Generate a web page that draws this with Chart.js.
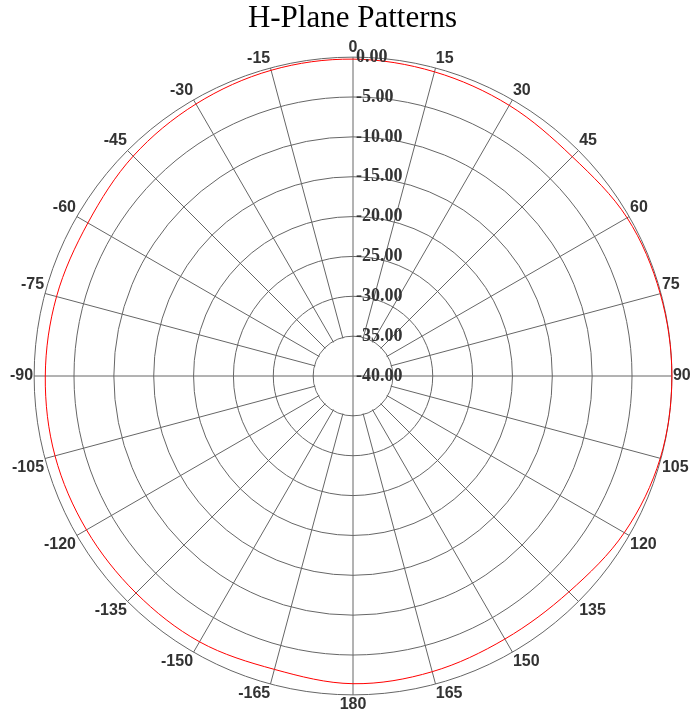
<!DOCTYPE html>
<html>
<head>
<meta charset="utf-8">
<script src="https://cdn.jsdelivr.net/npm/chart.js@4"></script>
<style>
  body { margin: 0; background: #fff; }
  #wrap { width: 694px; height: 719px; }
</style>
</head>
<body>
<div id="wrap"><canvas id="pattern"></canvas></div>
<script>
// angles in degrees, clockwise from top
const angles = [0, 15, 30, 45, 60, 75, 90, 105, 120, 135, 150, 165, 180,
                -165, -150, -135, -120, -105, -90, -75, -60, -45, -30, -15];
// measured gain in dB at each angle
const gainDb = [-0.25, -0.5, -0.8, -1.1, -0.3, -0.1, 0, -0.1, -0.7, -1.7, -1.9, -1.6, -1.4,
                -1.9, -1.5, -1.5, -1.4, -1.3, -1.4, -1.5, -1.6, -1.0, -0.6, -0.3];
const dbMin = -40;
const dbMax = 0;
const dbStep = 5;

// white hole in the middle, only the cross runs through it
const innerHole = {
    id: 'innerHole',
    beforeDatasetsDraw(chart) {
        const s = chart.scales.r;
        const ctx = chart.ctx;
        const rHole = s.getDistanceFromCenterForValue(dbMin + dbStep);
        ctx.save();
        ctx.fillStyle = '#fff';
        ctx.beginPath();
        ctx.arc(s.xCenter, s.yCenter, rHole - 0.8, 0, Math.PI * 2);
        ctx.fill();
        ctx.strokeStyle = '#666';
        ctx.lineWidth = 1;
        ctx.beginPath();
        ctx.moveTo(s.xCenter, s.yCenter - rHole);
        ctx.lineTo(s.xCenter, s.yCenter + rHole);
        ctx.moveTo(s.xCenter - rHole, s.yCenter);
        ctx.lineTo(s.xCenter + rHole, s.yCenter);
        ctx.stroke();
        ctx.restore();
    },
    afterDatasetsDraw(chart) {
        // dB labels up the 0 degree spoke, left aligned
        const s = chart.scales.r;
        const ctx = chart.ctx;
        ctx.save();
        ctx.font = 'bold 18px "Liberation Serif"';
        ctx.fillStyle = '#333';
        ctx.textAlign = 'left';
        ctx.textBaseline = 'middle';
        s.ticks.forEach(t => {
            const y = s.yCenter - s.getDistanceFromCenterForValue(t.value);
            ctx.fillText(t.value.toFixed(2), s.xCenter + 3, y);
        });
        ctx.restore();
    }
};

const ctx = document.getElementById('pattern').getContext('2d');
new Chart(ctx, {
    type: 'radar',
    data: {
        labels: angles.map(String),
        datasets: [{
            data: gainDb,
            borderColor: '#ff0000',
            borderWidth: 1,
            backgroundColor: 'transparent',
            fill: false,
            pointRadius: 0,
            tension: 0.34
        }]
    },
    options: {
        responsive: true,
        maintainAspectRatio: false,
        animation: false,
        layout: { padding: { left: 8, right: -3, top: 0, bottom: 3 } },
        plugins: {
            legend: { display: false },
            tooltip: { enabled: false },
            title: {
                display: true,
                text: 'H-Plane Patterns',
                color: '#000',
                font: { family: '"Liberation Serif"', size: 31, weight: 'normal' },
                padding: { top: 0, bottom: 0 }
            }
        },
        scales: {
            r: {
                min: dbMin,
                max: dbMax,
                startAngle: 0,
                ticks: { stepSize: dbStep, display: false },
                grid: { color: '#666', lineWidth: 1, circular: true },
                angleLines: { color: '#666', lineWidth: 1 },
                pointLabels: {
                    color: '#333',
                    padding: 1,
                    font: { family: '"Liberation Sans"', size: 16, weight: 'bold', lineHeight: 1.1 }
                }
            }
        }
    },
    plugins: [innerHole]
});
</script>
</body>
</html>
